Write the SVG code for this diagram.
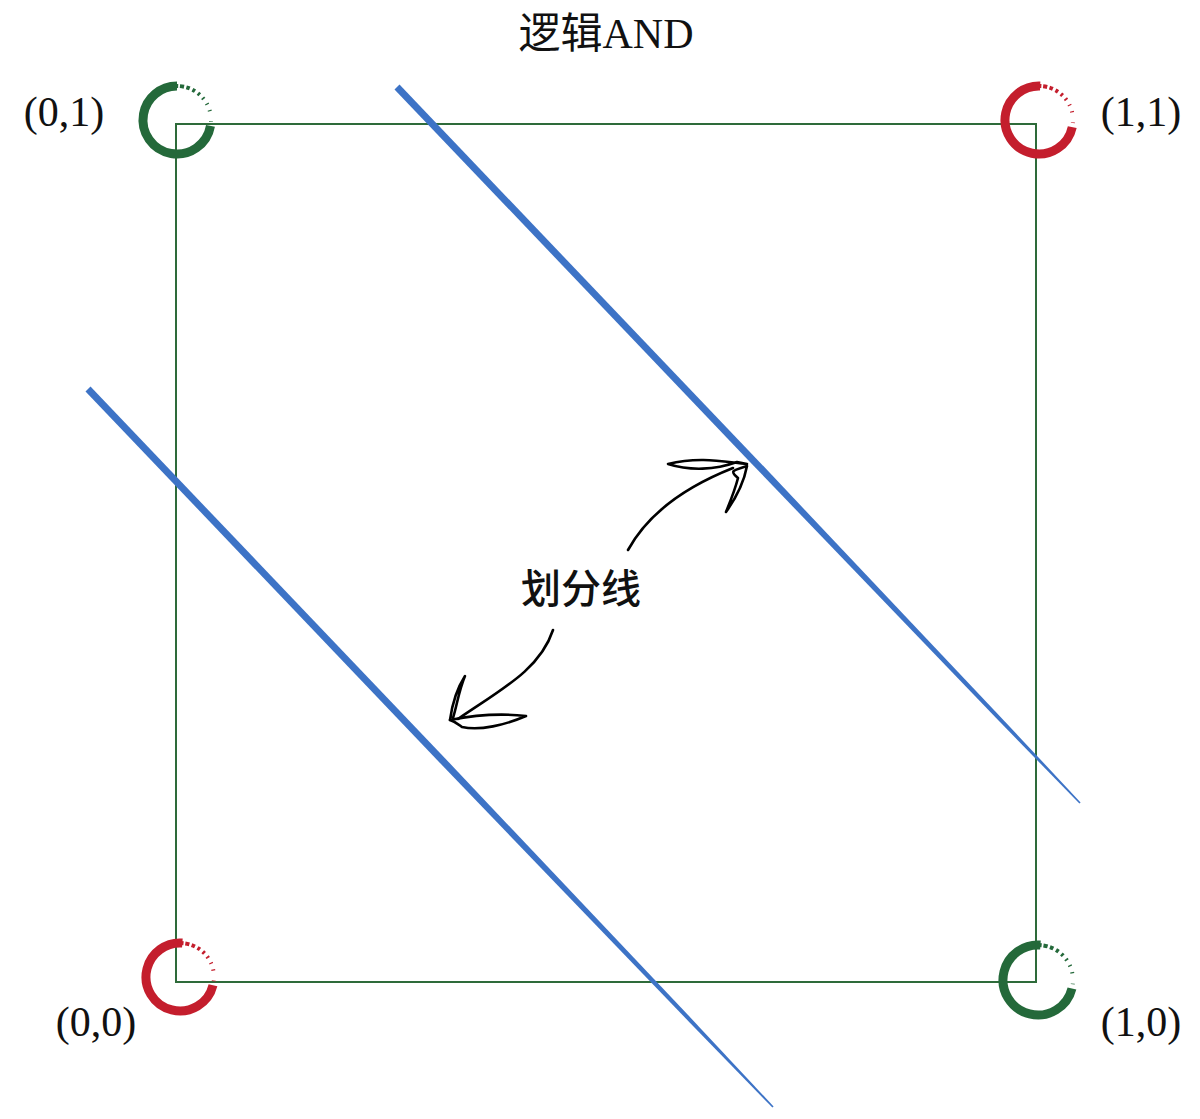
<svg xmlns="http://www.w3.org/2000/svg" width="1200" height="1119" viewBox="0 0 1200 1119">
<style>
.lbl{font-family:"Liberation Serif","Noto Sans CJK SC",serif;font-size:42px;fill:#111}
.cjk{font-family:"Noto Sans CJK SC",sans-serif;font-size:40px;font-weight:500;fill:#111}
.ring{fill:none;stroke-width:9}
.dots{fill:none;stroke-width:4}
.g{stroke:#24693a}
.r{stroke:#c41e2d}
.ink{fill:none;stroke:#000;stroke-width:2.6;stroke-linecap:round;stroke-linejoin:round}
.blue{fill:#3d73c6}
</style>
<rect width="1200" height="1119" fill="#fff"/>
<g id="title"><text class="lbl" x="606" y="48" text-anchor="middle">逻辑AND</text></g>
<g id="square"><rect x="176" y="124" width="860" height="858" fill="none" stroke="#2e6b3a" stroke-width="2"/></g>
<g id="p01">
<circle class="ring g" cx="177" cy="120" r="34" pathLength="360" stroke-dasharray="260 100" transform="rotate(10 177 120)"/>
<circle class="dots g" cx="177" cy="120" r="34" pathLength="360" stroke-dasharray="10 3 7 4 6 5 5 6 4 7 3 9 2 10 2 17 1 265" transform="rotate(262 177 120)"/>
<text class="lbl" x="64" y="126" text-anchor="middle">(0,1)</text>
</g>
<g id="p11">
<circle class="ring r" cx="1039" cy="120" r="34" pathLength="360" stroke-dasharray="260 100" transform="rotate(12 1039 120)"/>
<circle class="dots r" cx="1039" cy="120" r="34" pathLength="360" stroke-dasharray="10 3 7 4 6 5 5 6 4 7 3 9 2 10 2 17 1 265" transform="rotate(264 1039 120)"/>
<text class="lbl" x="1141" y="126" text-anchor="middle">(1,1)</text>
</g>
<g id="p00">
<circle class="ring r" cx="180" cy="977" r="34" pathLength="360" stroke-dasharray="260 100" transform="rotate(14 180 977)"/>
<circle class="dots r" cx="180" cy="977" r="34" pathLength="360" stroke-dasharray="10 3 7 4 6 5 5 6 4 7 3 9 2 10 2 17 1 265" transform="rotate(266 180 977)"/>
<text class="lbl" x="96" y="1036" text-anchor="middle">(0,0)</text>
</g>
<g id="p10">
<circle class="ring g" cx="1038" cy="980" r="35" pathLength="360" stroke-dasharray="260 100" transform="rotate(14 1038 980)"/>
<circle class="dots g" cx="1038" cy="980" r="35" pathLength="360" stroke-dasharray="10 3 7 4 6 5 5 6 4 7 3 9 2 10 2 17 1 265" transform="rotate(266 1038 980)"/>
<text class="lbl" x="1141" y="1036" text-anchor="middle">(1,0)</text>
</g>
<g id="connectors">
<polygon id="line-upper" class="blue" points="399.5,84.6 754.7,456.9 999.4,715.7 1080.6,802.4 1079.4,803.6 996.6,718.5 749.7,461.7 394.5,89.4"/>
<polygon id="line-lower" class="blue" points="90.5,386.6 446.7,760.0 692.2,1019.4 773.6,1106.4 772.4,1107.6 689.4,1022.2 441.7,764.8 85.5,391.4"/>
<path class="ink" d="M628,550 C650,510 690,485 733,468"/>
<path class="ink" d="M747,464 C725,462 700,456 668,464 C690,471 715,470 737,462 Z"/>
<path class="ink" d="M747,466 C735,470 728,470 738,478 C735,490 730,502 726,512 C736,498 744,482 747,466 Z"/>
<path class="ink" d="M553,630 C540,670 500,690 458,719"/>
<path class="ink" d="M450,720 C452,705 456,690 465,676 C459,690 457,705 453,718"/>
<path class="ink" d="M450,720 C470,716 500,713 526,716 C505,725 480,731 462,727 C458,724 456,722 450,720 Z"/>
</g>
<g id="note"><text class="cjk" x="581" y="603" text-anchor="middle">划分线</text></g>
</svg>
